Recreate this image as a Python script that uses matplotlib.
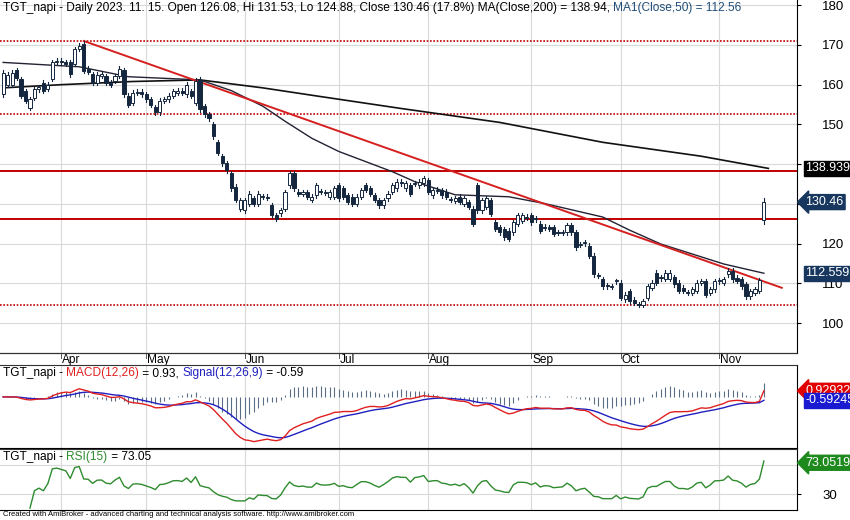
import matplotlib
matplotlib.use("Agg")
import matplotlib.pyplot as plt
import numpy as np
import pandas as pd
from matplotlib.patches import Rectangle

plt.rcParams['font.family'] = ['Liberation Sans', 'DejaVu Sans']

opens = [157.6,160,160,163.6,161.4,158.4,154.2,156.7,158.8,160.5,158.9,161.4,165.6,166,165.6,165.6,165.2,169,170.3,164,162.6,160.5,162.2,162.2,160.5,161,162.2,163.7,157.2,155.5,158,158.2,
157.6,156.3,154.3,153,156,156.3,157.2,158,158.5,157.6,158.4,155.5,161.3,154.6,152.5,150,145.6,142,140.2,137.7,134.3,128.8,
128.4,130.1,131.4,130.1,132,131.8,129.7,127.1,127.6,128.8,134.7,137.7,133.1,132.6,133,131,132.2,133.2,133,131.8,131.8,134.7,133.9,132.2,131.8,130.1,131.8,134.7,133.9,132.2,130.9,129.7,131.4,133,133.9,135.6,133.9,134.7,135,134.7,135.2,136,132.2,133.3,133.5,133.1,131.2,130.8,131.8,130.1,130.5,128.8,134.7,128.4,129.2,130.9,125.4,124.1,123.7,123.3,122.9,125,
125.8,126.5,127.1,126.1,125,124.3,124.1,124.1,122.8,122.7,122.9,124.6,122.9,119.7,120.1,119.5,117,112,111,109.4,109.2,110.5,110.2,106,108.1,105.9,104.8,104.7,106.4,108.9,112.7,111.3,111.1,111.1,111.5,110.2,108.9,107.7,107.7,108.1,110.2,110.6,107.7,108.5,110.5,110.2,112.3,113.2,111.4,111,109.8,106.8,107.7,108.1,126.08]
closes = [163,162.5,163,161.8,157.2,155.9,156.3,158.8,159.3,158.4,160,165.6,166,165.6,165.2,162.6,169,169.8,163.5,163.3,160.5,162.5,162.6,160.5,160,162.2,164,157.6,155,158,158.2,157.6,
156.3,155,153,156,156.3,157.2,158.4,158.5,158,160,157.2,161,153.8,152.5,151.5,147,142.8,140.2,138.5,133.9,131,131,
130.9,132.6,130.1,132.6,131.8,131.6,127.1,126.3,128.4,133,137.7,133.9,132.6,133,131.8,131.8,134.7,133,132.8,133,133.9,131.4,131.8,130.5,130.1,131.8,133.5,133.5,132.6,131,129.7,131,132.6,134.7,135.6,135.2,135.2,132.6,135.2,135.6,136.4,133.1,133.5,133.6,132.2,131.8,131,131.4,130.5,131.4,129.2,125,128.4,130.9,131.4,127.5,123.7,122.9,121.6,121.2,125.4,127.1,
127.1,126.8,125.4,126.4,123.3,124,123.8,122.5,122.7,122.9,124.6,122.9,119.1,119.9,120.3,117,112.3,111.9,109.3,109.3,109.3,110.6,106.4,107.2,105.5,105.1,104.7,105.5,109.3,110.2,110.2,111.5,112.7,112.7,109.8,108.1,108.1,107.6,108.5,110.2,110.6,107.2,108.5,110.6,110.7,111,113.2,111,110.6,109.3,106.8,108.1,108.5,110.8,130.46]
last_high, last_low = 131.53, 124.88

ma200_idx = [0,13,29,44,58,71,89,111,134,156,171]
ma200_val = [159.2,160,160.8,161.2,159.2,157,154,150.5,145.5,142,138.94]
ma50_idx = [0,17,28,44,51,58,63,69,75,87,92,101,113,121,134,140,147,161,170]
ma50_val = [165.6,164.5,162,161.2,158.5,154.6,150.8,146.5,143.2,138.1,135.6,132.3,131.8,130.1,126.7,123.4,119.9,114.9,112.56]

trend_idx = [18, 174]
trend_val = [171, 108.9]
dotted_levels = [171, 152.6, 104.7]
solid_levels = [138.3, 126.1]
price_ticks = [100, 110, 120, 130, 140, 150, 160, 170, 180]
price_labels = ['100', '110', '120', '', '', '150', '160', '170', '180']

N = len(closes)
hol = pd.to_datetime(['2023-04-07', '2023-05-29', '2023-06-19', '2023-07-04', '2023-09-04'])
days = pd.bdate_range('2023-01-01', '2023-11-15')
days = days[~days.isin(hol)][-N:]
month_idx = [i for i in range(1, N) if days[i].month != days[i-1].month]
month_lbl = [days[i].strftime('%b') for i in month_idx]

W, H = 850, 520
fig = plt.figure(figsize=(8.5, 5.2), dpi=100)
def ax_px(x0, y0, x1, y1):
    return fig.add_axes([x0/W, 1-y1/H, (x1-x0)/W, (y1-y0)/H])

XL = (-0.7, 177.4)
GRID = '#d9d9d9'
DARK = '#14273f'
FS = 8.6

def chain(axis, parts, y=0.995):
    x0 = 0.004
    renderer = fig.canvas.get_renderer()
    for txt, col in parts:
        tt = axis.text(x0, y, txt, transform=axis.transAxes, fontsize=FS, va='top', ha='left', color=col)
        bb = tt.get_window_extent(renderer)
        x0 += bb.width / axis.get_window_extent(renderer).width

# main
ax = ax_px(0, 0, 797, 353)
ax.set_xlim(*XL); ax.set_ylim(92.5, 181.3)
for m in month_idx: ax.axvline(m, color=GRID, lw=0.8, zorder=0)
for t in price_ticks: ax.axhline(t, color=GRID, lw=0.8, zorder=0)
for lv in dotted_levels: ax.axhline(lv, color='#c00000', lw=1.2, ls=(0, (1, 1)), zorder=1)
for lv in solid_levels: ax.axhline(lv, color='#c00000', lw=1.4, zorder=1)
x = np.arange(N)
highs = [max(o, c) + 0.6 for o, c in zip(opens, closes)]
lows = [min(o, c) - 0.6 for o, c in zip(opens, closes)]
highs[-1], lows[-1] = last_high, last_low
for i in range(N):
    o, c = opens[i], closes[i]
    ax.plot([i, i], [lows[i], highs[i]], color=DARK, lw=0.8, zorder=3)
    up = c >= o
    ax.add_patch(Rectangle((i-0.35, min(o, c)), 0.7, max(abs(c-o), 0.25),
                           facecolor='white' if up else DARK, edgecolor=DARK, lw=0.7, zorder=4))
ax.plot(ma200_idx, ma200_val, color='#111111', lw=1.2, zorder=2)
ax.plot(ma50_idx, ma50_val, color='#222233', lw=1.0, zorder=2)
ax.plot(trend_idx, trend_val, color='#d62020', lw=1.4, zorder=2)
ax.set_xticks([]); ax.yaxis.tick_right()
ax.set_yticks(price_ticks); ax.set_yticklabels(price_labels, fontsize=9.5)
ax.tick_params(axis='y', length=3, pad=15)
for s in ['left', 'top']: ax.spines[s].set_visible(False)
chain(ax, [('TGT_napi - Daily 2023. 11. 15. Open 126.08, Hi 131.53, Lo 124.88, Close 130.46 (17.8%) MA(Close,200) = 138.94, ', 'black'),
           ('MA1(Close,50) = 112.56', '#1f4e79')])

def tag(axis, y, txt, fc, arrow=False):
    axis.annotate(txt, xy=(1.0, y), xycoords=('axes fraction', 'data'), xytext=(6, 0), textcoords='offset points',
                  fontsize=9, color='white', va='center', ha='left', zorder=10, annotation_clip=False,
                  bbox=dict(boxstyle='larrow,pad=0.12' if arrow else 'square,pad=0.12', fc=fc, ec=fc))
tag(ax, 138.94, '138.939', '#000000')
tag(ax, 130.46, '130.46', '#17375e', True)
tag(ax, 112.56, '112.559', '#17375e')

# date strip
dx = ax_px(0, 353, 797, 365)
dx.set_xlim(*XL); dx.set_ylim(0, 1); dx.axis('off')
for m, l in zip(month_idx, month_lbl):
    dx.plot([m, m], [0.55, 1], color='#555', lw=0.7)
    dx.text(m + 0.2, 0.45, l, fontsize=FS, va='center', ha='left')
fig.add_artist(plt.Line2D([0, 797/W], [1-353/H, 1-353/H], color='#333', lw=0.8))
fig.add_artist(plt.Line2D([0, 797/W], [1-365/H, 1-365/H], color='#333', lw=0.8))

# MACD
cs = pd.Series(closes)
macd = cs.ewm(span=12, adjust=True).mean() - cs.ewm(span=26, adjust=True).mean()
sig = macd.ewm(span=9, adjust=True).mean()
hist = macd - sig
mx = ax_px(0, 365, 797, 448)
mx.set_xlim(*XL)
lo, hi = macd.min(), macd.max()
span = hi - lo
mx.set_ylim(lo - 0.12*span, hi + 0.45*span)
for m in month_idx: mx.axvline(m, color=GRID, lw=0.8, zorder=0)
mx.vlines(x, 0, hist*1.5, color='#5a6f86', lw=0.8)
mx.plot(x, sig, color='#2020c0', lw=1.0)
mx.plot(x, macd, color='#e02020', lw=1.0)
mx.set_xticks([]); mx.set_yticks([])
for s in ['left', 'top']: mx.spines[s].set_visible(False)
chain(mx, [('TGT_napi - ', 'black'), ('MACD(12,26)', '#e02020'), (' = 0.93, ', 'black'),
           ('Signal(12,26,9)', '#2020c0'), (' = -0.59', 'black')], y=0.97)
tag(mx, macd.iloc[-1], '0.929321', '#e00000', True)
tag(mx, sig.iloc[-1], '-0.592456', '#1a1ad0')

# RSI
d = cs.diff()
g = d.clip(lower=0).ewm(alpha=1/15, adjust=True).mean()
l_ = (-d.clip(upper=0)).ewm(alpha=1/15, adjust=True).mean()
rsi = 100 - 100/(1 + g/l_)
rx = ax_px(0, 449, 797, 510)
rx.set_xlim(*XL); rx.set_ylim(8, 92)
for m in month_idx: rx.axvline(m, color=GRID, lw=0.8, zorder=0)
for t in [30, 70]: rx.axhline(t, color=GRID, lw=0.8, zorder=0)
rx.plot(x[6:], rsi[6:], color='#2e8b2e', lw=1.0)
rx.set_xticks([]); rx.yaxis.tick_right()
rx.set_yticks([30]); rx.set_yticklabels(['30'], fontsize=9.5)
rx.tick_params(axis='y', length=3, pad=15)
for s in ['left', 'top']: rx.spines[s].set_visible(False)
chain(rx, [('TGT_napi - ', 'black'), ('RSI(15)', '#2e8b2e'), (' = 73.05', 'black')], y=0.97)
tag(rx, 73.05, '73.0519', '#1e8a1e', True)
fig.add_artist(plt.Line2D([0, 797/W], [1-448.5/H, 1-448.5/H], color='#333', lw=0.8))

fig.text(0.004, 1-515/H, 'Created with AmiBroker - advanced charting and technical analysis software. http://www.amibroker.com',
         fontsize=5.5, va='center')
fig.savefig('out.png', dpi=100)
